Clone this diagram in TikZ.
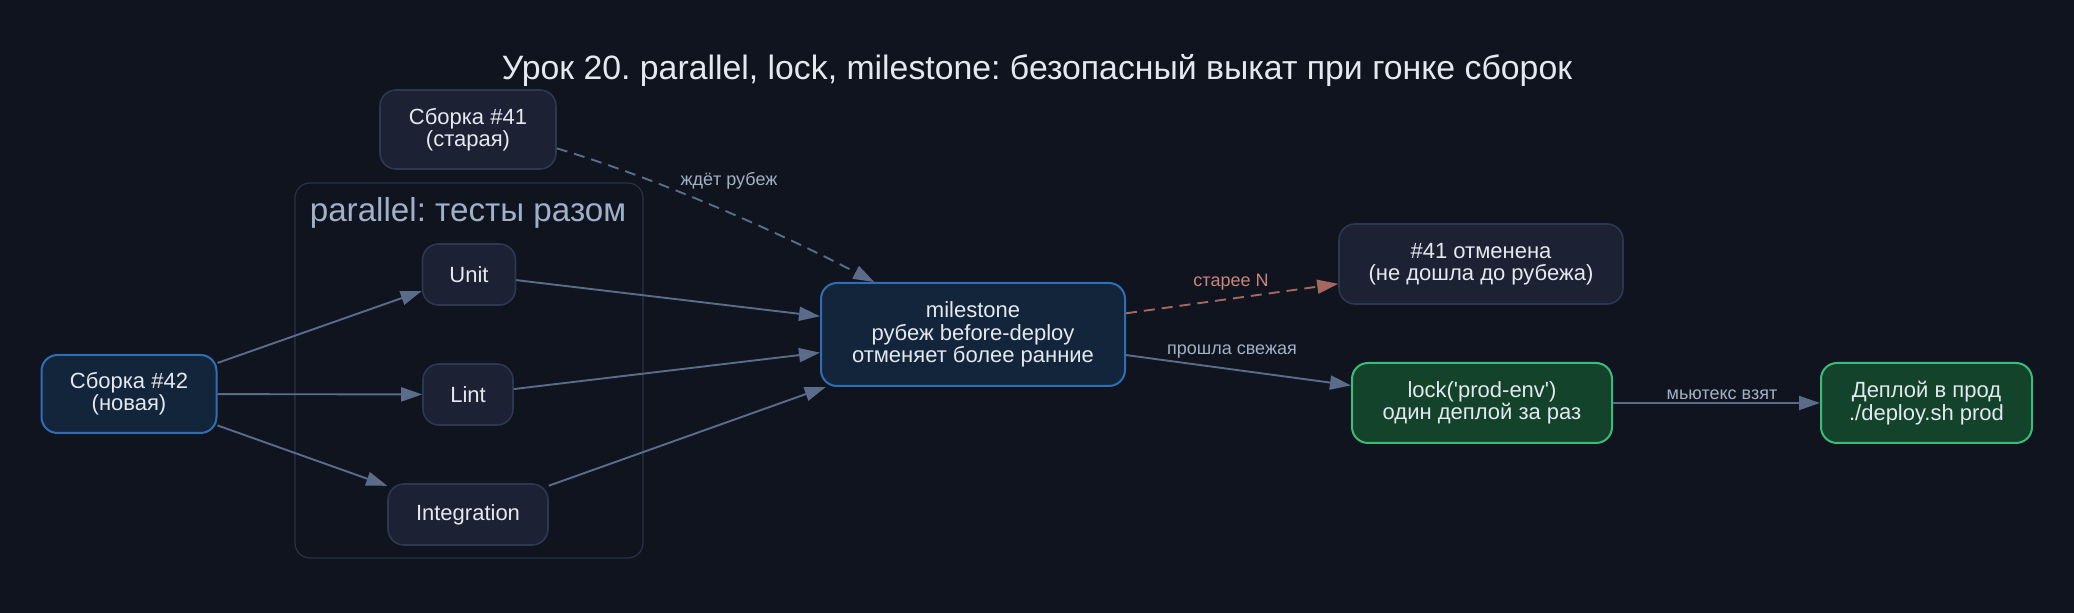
\documentclass[tikz,border=0pt]{standalone}
\usepackage{fontspec}
\setmainfont{Liberation Sans}[Ligatures=TeXOff]
\usetikzlibrary{arrows.meta}
\frenchspacing
\definecolor{bg}{HTML}{10141F}
\definecolor{gfill}{HTML}{1C2233}
\definecolor{gline}{HTML}{2D3750}
\definecolor{bfill}{HTML}{13253B}
\definecolor{bline}{HTML}{2F6EB5}
\definecolor{nfill}{HTML}{13432A}
\definecolor{nline}{HTML}{3DBB7A}
\definecolor{edgec}{HTML}{5B6B8A}
\definecolor{redc}{HTML}{A5675F}
\definecolor{redt}{HTML}{C8867C}
\definecolor{lblc}{HTML}{A3B0C5}
\definecolor{txtc}{HTML}{E4E8EF}
\definecolor{clline}{HTML}{2A3244}
\definecolor{cltxt}{HTML}{9FB0C8}
\begin{document}
\begin{tikzpicture}[x=0.5pt,y=-0.5pt,
  box/.style={rectangle, rounded corners=8pt, draw=gline, line width=0.8pt, fill=gfill,
    text=txtc, align=center, inner sep=0pt,
    font=\fontsize{11}{11.2}\selectfont},
  bluebox/.style={box, draw=bline, fill=bfill, line width=1pt},
  greenbox/.style={box, draw=nline, fill=nfill, line width=1pt},
  edge/.style={draw=edgec, line width=0.95pt, -{Triangle[length=10.5pt,width=7pt]}},
  dashedge/.style={edge, dash pattern=on 5.5pt off 3.5pt},
  elabel/.style={text=lblc, font=\fontsize{9}{9}\selectfont, inner sep=0pt}
]
\useasboundingbox (0,0) rectangle (2074,613);
\fill[bg] (0,0) rectangle (2074,613);

\node[text=txtc, font=\fontsize{16.9}{18}\selectfont, anchor=base, inner sep=0pt] (title) at (1037,80)
  {Урок 20. parallel, lock, milestone: безопасный выкат при гонке сборок};

% cluster
\draw[clline, line width=0.6pt, rounded corners=7.5pt] (295,183) rectangle (643,558);
\node[text=cltxt, font=\fontsize{16.6}{18}\selectfont, anchor=base, inner sep=0pt] (cltitle) at (468,222)
  {parallel: тесты разом};

\node[box, minimum width=88pt, minimum height=39.5pt] (s41) at (468,129.5) {Сборка \#41\\(старая)};
\node[bluebox, minimum width=87.5pt, minimum height=39pt] (s42) at (129,394) {Сборка \#42\\(новая)};
\node[box, minimum width=46.5pt, minimum height=30.5pt] (unit) at (469,274.5) {Unit};
\node[box, minimum width=45pt, minimum height=30.5pt] (lint) at (468,394.5) {Lint};
\node[box, minimum width=80pt, minimum height=30.5pt] (integ) at (468,514.5) {Integration};
\node[bluebox, minimum width=152pt, minimum height=51.5pt] (ms) at (973,334.5)
  {milestone\\рубеж before-deploy\\отменяет более ранние};
\node[box, minimum width=142pt, minimum height=40pt] (cancel) at (1481,264)
  {\#41 отменена\\(не дошла до рубежа)};
\node[greenbox, minimum width=130pt, minimum height=40pt] (lock) at (1482,403)
  {lock('prod-env')\\один деплой за раз};
\node[greenbox, minimum width=105.5pt, minimum height=40pt] (deploy) at (1926.5,403)
  {Деплой в прод\\./deploy.sh prod};

\draw[edge] (s42) -- (unit);
\draw[edge] (s42) -- (lint);
\draw[edge] (s42) -- (integ);
\draw[edge] (unit) -- (ms);
\draw[edge] (lint) -- (ms);
\draw[edge] (integ) -- (ms);
\draw[dashedge] (s41.-12) .. controls +(100,30) and +(-100,-52) .. (ms.152);
\draw[dashedge, draw=redc, -{Triangle[length=10.5pt,width=7pt,fill=redc]}] (ms) -- (cancel);
\draw[edge] (ms) -- (lock);
\draw[edge] (lock) -- (deploy);

\node[elabel] (l1) at (729,181) {ждёт рубеж};
\node[elabel, text=redt] (l2) at (1231,282) {старее N};
\node[elabel] (l3) at (1232,352) {прошла свежая};
\node[elabel] (l4) at (1722,395) {мьютекс взят};
\end{tikzpicture}
\end{document}
